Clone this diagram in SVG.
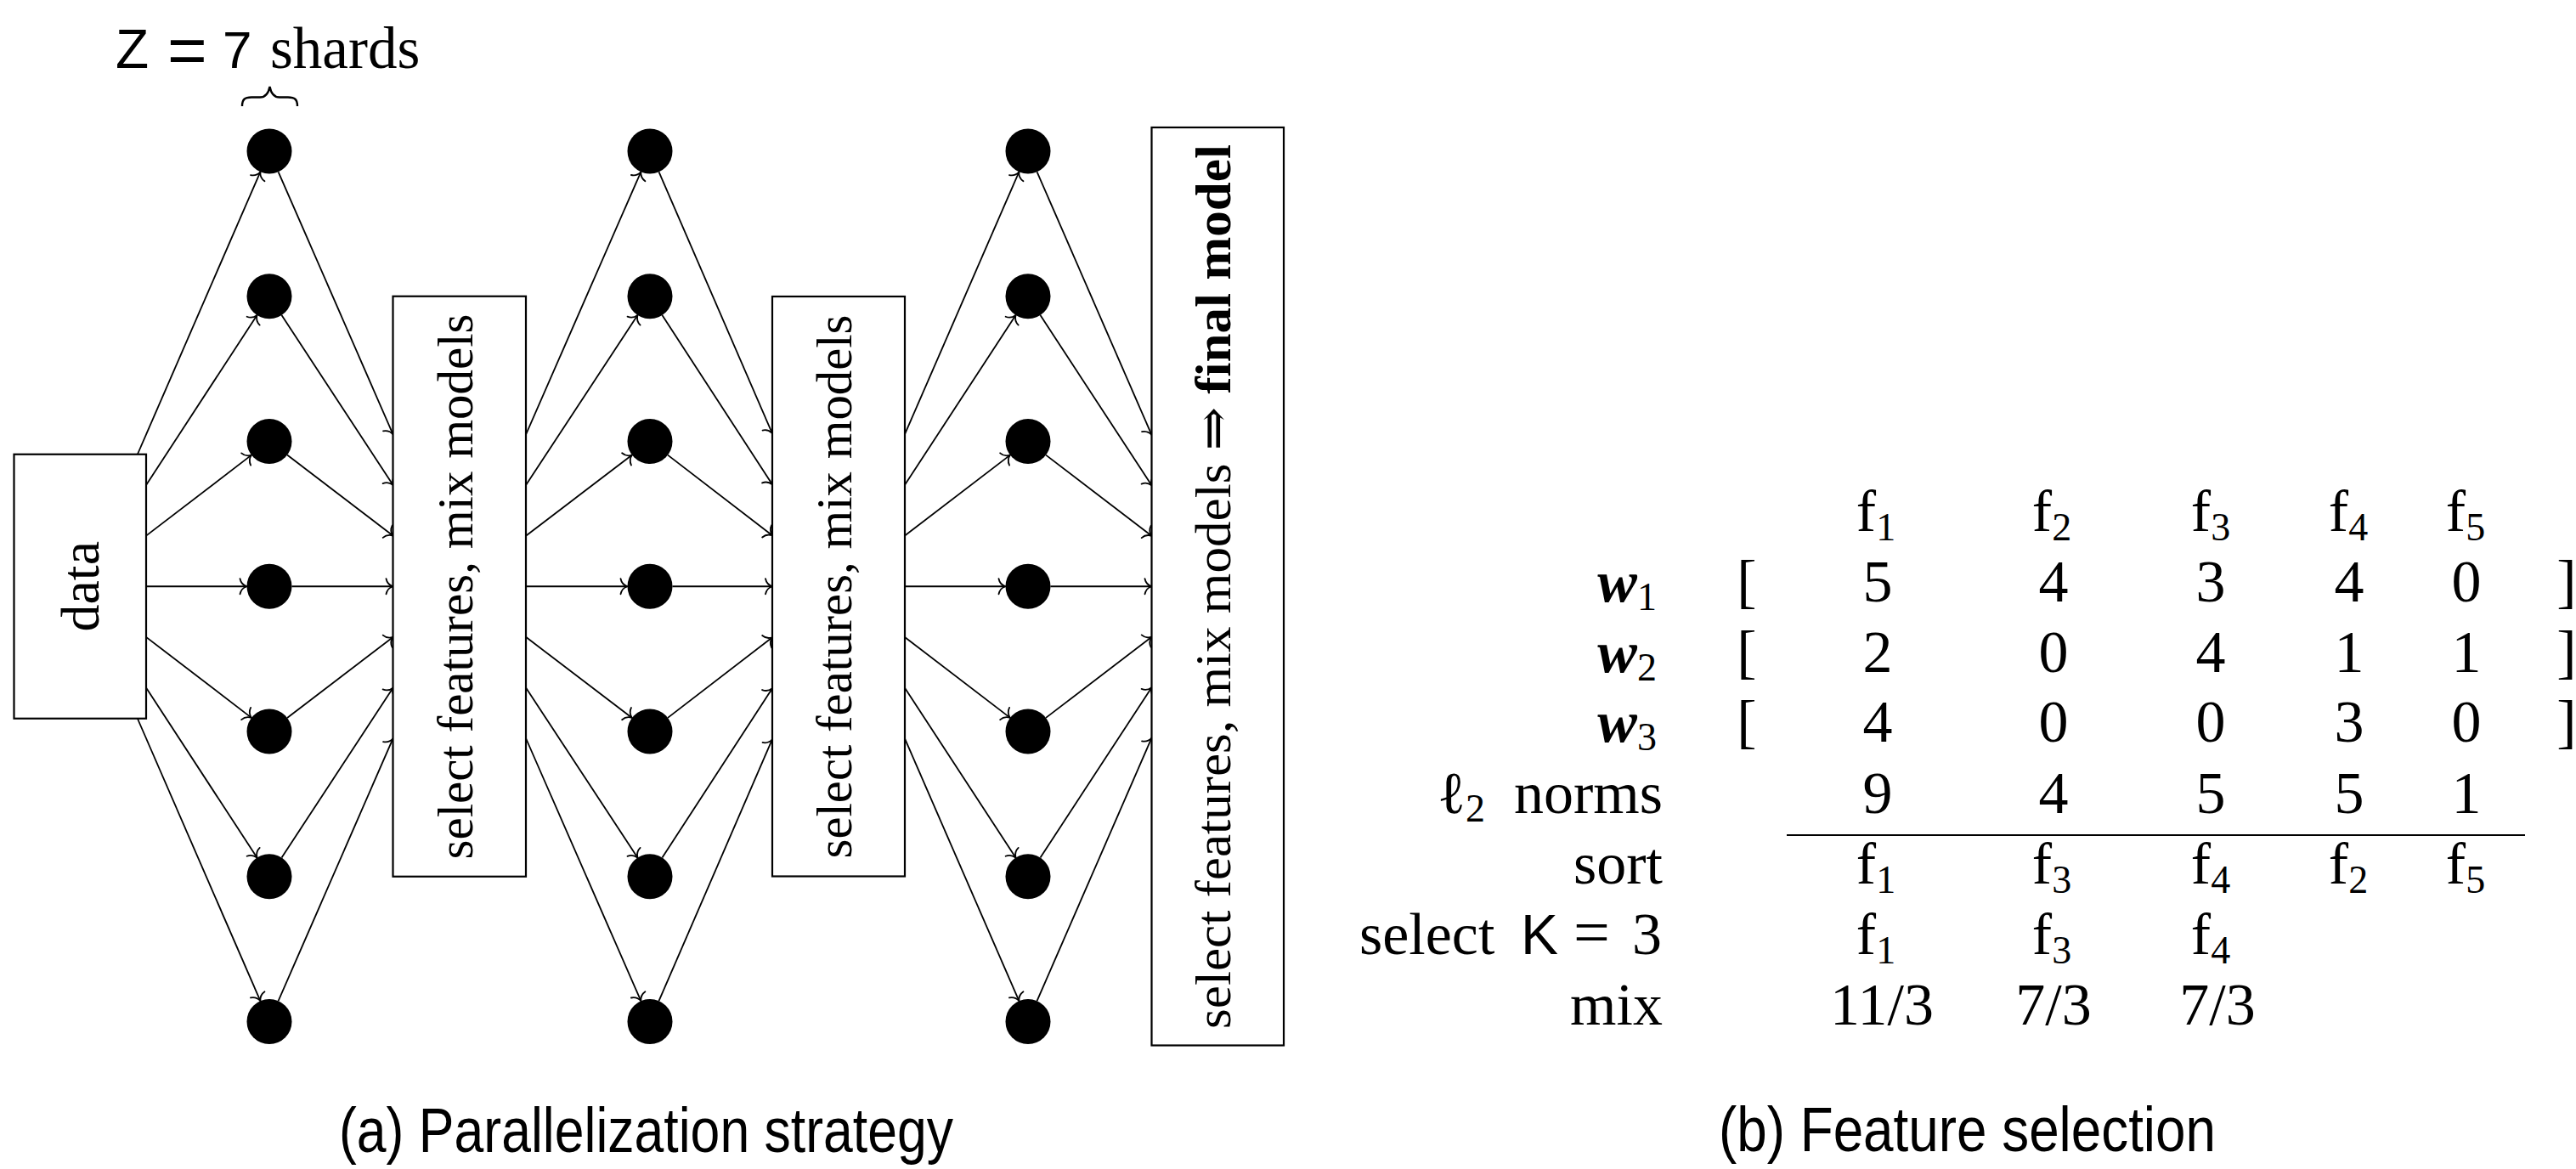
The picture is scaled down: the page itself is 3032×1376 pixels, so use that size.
<svg xmlns="http://www.w3.org/2000/svg" width="3032" height="1376" viewBox="0 0 3032 1376">
<style>
  .serif{font-family:"Liberation Serif","DejaVu Serif",serif;}
  .sans{font-family:"Liberation Sans",Arial,sans-serif;}
  .box{fill:#fff;stroke:#000;stroke-width:2.2;}
  .dot{fill:#000;}
  .edge{stroke:#000;stroke-width:1.8;fill:none;marker-end:url(#arr);}
  .btxt{font-size:59px;text-anchor:middle;}
  .tb{font-size:70px;}
  .c{text-anchor:middle;}
  .e{text-anchor:end;}
  .sub{font-size:46px;}
</style>
<defs>
  <marker id="arr" markerUnits="userSpaceOnUse" viewBox="-12 -12 14 24" refX="0" refY="0" markerWidth="14" markerHeight="24" orient="auto" overflow="visible">
    <path d="M-8,-9 C-7,-4 -3,-1 0,0 C-3,1 -7,4 -8,9" fill="none" stroke="#000" stroke-width="1.8" stroke-linecap="round"/>
  </marker>
</defs>
<rect width="3032" height="1376" fill="#fff"/>

<!-- connectors -->
<g id="connectors">
  <line class="edge" x1="161.87" y1="534.75" x2="306.43" y2="202.30"/>
  <line class="edge" x1="172" y1="571.05" x2="302.52" y2="370.95"/>
  <line class="edge" x1="172" y1="630.65" x2="295.97" y2="535.62"/>
  <line class="edge" x1="172" y1="690.25" x2="290.5" y2="690.25"/>
  <line class="edge" x1="172" y1="749.85" x2="295.97" y2="844.88"/>
  <line class="edge" x1="172" y1="809.45" x2="302.52" y2="1009.55"/>
  <line class="edge" x1="161.87" y1="845.75" x2="306.43" y2="1178.2"/>

  <line class="edge" x1="327.61" y1="202.28" x2="462.5" y2="511.1"/>
  <line class="edge" x1="331.52" y1="370.92" x2="462.5" y2="570.82"/>
  <line class="edge" x1="338.07" y1="535.58" x2="462.5" y2="630.54"/>
  <line class="edge" x1="343.5" y1="690.25" x2="462.5" y2="690.25"/>
  <line class="edge" x1="338.07" y1="844.92" x2="462.5" y2="749.96"/>
  <line class="edge" x1="331.52" y1="1009.58" x2="462.5" y2="809.68"/>
  <line class="edge" x1="327.61" y1="1178.22" x2="462.5" y2="869.4"/>

  <line class="edge" x1="619" y1="511.5" x2="754.37" y2="202.28"/>
  <line class="edge" x1="619" y1="571.09" x2="750.45" y2="370.9"/>
  <line class="edge" x1="619" y1="630.67" x2="743.92" y2="535.55"/>
  <line class="edge" x1="619" y1="690.25" x2="738.5" y2="690.25"/>
  <line class="edge" x1="619" y1="749.83" x2="743.92" y2="844.95"/>
  <line class="edge" x1="619" y1="809.41" x2="750.45" y2="1009.6"/>
  <line class="edge" x1="619" y1="869.0" x2="754.37" y2="1178.22"/>

  <line class="edge" x1="775.54" y1="202.31" x2="909" y2="510.27"/>
  <line class="edge" x1="779.44" y1="370.97" x2="909" y2="570.26"/>
  <line class="edge" x1="786.01" y1="535.66" x2="909" y2="630.26"/>
  <line class="edge" x1="791.5" y1="690.25" x2="909" y2="690.25"/>
  <line class="edge" x1="786.01" y1="844.84" x2="909" y2="750.24"/>
  <line class="edge" x1="779.44" y1="1009.53" x2="909" y2="810.24"/>
  <line class="edge" x1="775.54" y1="1178.19" x2="909" y2="870.23"/>

  <line class="edge" x1="1065" y1="511.08" x2="1199.42" y2="202.30"/>
  <line class="edge" x1="1065" y1="570.8" x2="1195.51" y2="370.94"/>
  <line class="edge" x1="1065" y1="630.53" x2="1188.96" y2="535.61"/>
  <line class="edge" x1="1065" y1="690.25" x2="1183.5" y2="690.25"/>
  <line class="edge" x1="1065" y1="749.97" x2="1188.96" y2="844.89"/>
  <line class="edge" x1="1065" y1="809.7" x2="1195.51" y2="1009.56"/>
  <line class="edge" x1="1065" y1="869.42" x2="1199.42" y2="1178.2"/>

  <line class="edge" x1="1220.59" y1="202.29" x2="1355.5" y2="511.85"/>
  <line class="edge" x1="1224.5" y1="370.93" x2="1355.5" y2="571.32"/>
  <line class="edge" x1="1231.05" y1="535.6" x2="1355.5" y2="630.78"/>
  <line class="edge" x1="1236.5" y1="690.25" x2="1355.5" y2="690.25"/>
  <line class="edge" x1="1231.05" y1="844.9" x2="1355.5" y2="749.72"/>
  <line class="edge" x1="1224.5" y1="1009.57" x2="1355.5" y2="809.18"/>
  <line class="edge" x1="1220.59" y1="1178.21" x2="1355.5" y2="868.65"/>
</g>

<!-- boxes -->
<g id="node-data">
  <rect class="box" x="16.5" y="534.75" width="155.5" height="311"/>
  <text class="serif" font-size="64" text-anchor="middle" transform="translate(94.25,690.25) rotate(-90)" y="22">data</text>
</g>
<g id="node-mix1">
  <rect class="box" x="462.5" y="348.75" width="156.5" height="683"/>
  <text class="serif btxt" transform="translate(540.75,690.5) rotate(-90)" y="15" textLength="642" lengthAdjust="spacingAndGlyphs">select features, mix models</text>
</g>
<g id="node-mix2">
  <rect class="box" x="909" y="349" width="156" height="682.5"/>
  <text class="serif btxt" transform="translate(987,690.5) rotate(-90)" y="15" textLength="640" lengthAdjust="spacingAndGlyphs">select features, mix models</text>
</g>
<g id="node-final">
  <rect class="box" x="1355.5" y="150" width="155.5" height="1080.5"/>
  <text class="serif btxt" transform="translate(1433.25,690.5) rotate(-90)" y="15" textLength="1041" lengthAdjust="spacingAndGlyphs">select features, mix models ⇒ <tspan font-weight="bold">final model</tspan></text>
</g>

<!-- shard nodes -->
<g id="shard-1-1"><circle class="dot" cx="317" cy="178" r="26.5"/></g>
<g id="shard-1-2"><circle class="dot" cx="317" cy="348.75" r="26.5"/></g>
<g id="shard-1-3"><circle class="dot" cx="317" cy="519.5" r="26.5"/></g>
<g id="shard-1-4"><circle class="dot" cx="317" cy="690.25" r="26.5"/></g>
<g id="shard-1-5"><circle class="dot" cx="317" cy="861" r="26.5"/></g>
<g id="shard-1-6"><circle class="dot" cx="317" cy="1031.75" r="26.5"/></g>
<g id="shard-1-7"><circle class="dot" cx="317" cy="1202.5" r="26.5"/></g>

<g id="shard-2-1"><circle class="dot" cx="765" cy="178" r="26.5"/></g>
<g id="shard-2-2"><circle class="dot" cx="765" cy="348.75" r="26.5"/></g>
<g id="shard-2-3"><circle class="dot" cx="765" cy="519.5" r="26.5"/></g>
<g id="shard-2-4"><circle class="dot" cx="765" cy="690.25" r="26.5"/></g>
<g id="shard-2-5"><circle class="dot" cx="765" cy="861" r="26.5"/></g>
<g id="shard-2-6"><circle class="dot" cx="765" cy="1031.75" r="26.5"/></g>
<g id="shard-2-7"><circle class="dot" cx="765" cy="1202.5" r="26.5"/></g>

<g id="shard-3-1"><circle class="dot" cx="1210" cy="178" r="26.5"/></g>
<g id="shard-3-2"><circle class="dot" cx="1210" cy="348.75" r="26.5"/></g>
<g id="shard-3-3"><circle class="dot" cx="1210" cy="519.5" r="26.5"/></g>
<g id="shard-3-4"><circle class="dot" cx="1210" cy="690.25" r="26.5"/></g>
<g id="shard-3-5"><circle class="dot" cx="1210" cy="861" r="26.5"/></g>
<g id="shard-3-6"><circle class="dot" cx="1210" cy="1031.75" r="26.5"/></g>
<g id="shard-3-7"><circle class="dot" cx="1210" cy="1202.5" r="26.5"/></g>

<!-- Z = 7 shards label with brace -->
<g id="shards-label">
  <text font-size="64"><tspan class="sans" x="136" y="80">Z</tspan><tspan class="sans" x="197" y="86" font-size="80">=</tspan><tspan class="sans" x="262" y="80" font-size="62">7</tspan><tspan class="serif" x="318" y="80" font-size="69">shards</tspan></text>
  <path d="M285,125 C285,117 288,114.5 296,114.5 L306,114.5 C313,114.5 316,110 317.5,102 C319,110 322,114.5 329,114.5 L339,114.5 C347,114.5 350,117 350,125" fill="none" stroke="#000" stroke-width="2.4"/>
</g>

<!-- feature selection table -->
<g id="table" class="serif tb">
  <text class="c" x="2208" y="625">f<tspan class="sub" dy="11">1</tspan></text>
  <text class="c" x="2415" y="625">f<tspan class="sub" dy="11">2</tspan></text>
  <text class="c" x="2602" y="625">f<tspan class="sub" dy="11">3</tspan></text>
  <text class="c" x="2764" y="625">f<tspan class="sub" dy="11">4</tspan></text>
  <text class="c" x="2902" y="625">f<tspan class="sub" dy="11">5</tspan></text>

  <text class="e" x="1950" y="708"><tspan font-weight="bold" font-style="italic">w</tspan><tspan class="sub" dy="10">1</tspan></text>
  <text class="e" x="1950" y="791"><tspan font-weight="bold" font-style="italic">w</tspan><tspan class="sub" dy="10">2</tspan></text>
  <text class="e" x="1950" y="873"><tspan font-weight="bold" font-style="italic">w</tspan><tspan class="sub" dy="10">3</tspan></text>
  <text class="e" x="1748" y="957">ℓ<tspan class="sub" dy="10">2</tspan></text>
  <text class="e" x="1957" y="957">norms</text>
  <text class="e" x="1957" y="1040">sort</text>
  <text y="1123"><tspan x="1600">select</tspan><tspan class="sans" x="1790" font-size="66">K</tspan><tspan x="1852" font-size="76">=</tspan><tspan x="1921">3</tspan></text>
  <text class="e" x="1957" y="1206">mix</text>

  <text class="c" x="2056" y="708">[</text>
  <text class="c" x="2056" y="791">[</text>
  <text class="c" x="2056" y="873">[</text>
  <text class="c" x="3021" y="708">]</text>
  <text class="c" x="3021" y="791">]</text>
  <text class="c" x="3021" y="873">]</text>

  <text class="c" x="2210" y="708">5</text>
  <text class="c" x="2417" y="708">4</text>
  <text class="c" x="2602" y="708">3</text>
  <text class="c" x="2765" y="708">4</text>
  <text class="c" x="2903" y="708">0</text>

  <text class="c" x="2210" y="791">2</text>
  <text class="c" x="2417" y="791">0</text>
  <text class="c" x="2602" y="791">4</text>
  <text class="c" x="2765" y="791">1</text>
  <text class="c" x="2903" y="791">1</text>

  <text class="c" x="2210" y="873">4</text>
  <text class="c" x="2417" y="873">0</text>
  <text class="c" x="2602" y="873">0</text>
  <text class="c" x="2765" y="873">3</text>
  <text class="c" x="2903" y="873">0</text>

  <text class="c" x="2210" y="957">9</text>
  <text class="c" x="2417" y="957">4</text>
  <text class="c" x="2602" y="957">5</text>
  <text class="c" x="2765" y="957">5</text>
  <text class="c" x="2903" y="957">1</text>

  <line x1="2103" y1="983" x2="2972" y2="983" stroke="#000" stroke-width="2.2"/>

  <text class="c" x="2208" y="1040">f<tspan class="sub" dy="11">1</tspan></text>
  <text class="c" x="2415" y="1040">f<tspan class="sub" dy="11">3</tspan></text>
  <text class="c" x="2602" y="1040">f<tspan class="sub" dy="11">4</tspan></text>
  <text class="c" x="2764" y="1040">f<tspan class="sub" dy="11">2</tspan></text>
  <text class="c" x="2902" y="1040">f<tspan class="sub" dy="11">5</tspan></text>

  <text class="c" x="2208" y="1123">f<tspan class="sub" dy="11">1</tspan></text>
  <text class="c" x="2415" y="1123">f<tspan class="sub" dy="11">3</tspan></text>
  <text class="c" x="2602" y="1123">f<tspan class="sub" dy="11">4</tspan></text>

  <text class="c" x="2215" y="1206">11/3</text>
  <text class="c" x="2417" y="1206">7/3</text>
  <text class="c" x="2610" y="1206">7/3</text>
</g>

<!-- captions -->
<g id="captions" class="sans" font-size="74">
  <text x="399" y="1356" textLength="723" lengthAdjust="spacingAndGlyphs">(a) Parallelization strategy</text>
  <text x="2023" y="1355" textLength="585" lengthAdjust="spacingAndGlyphs">(b) Feature selection</text>
</g>
</svg>
